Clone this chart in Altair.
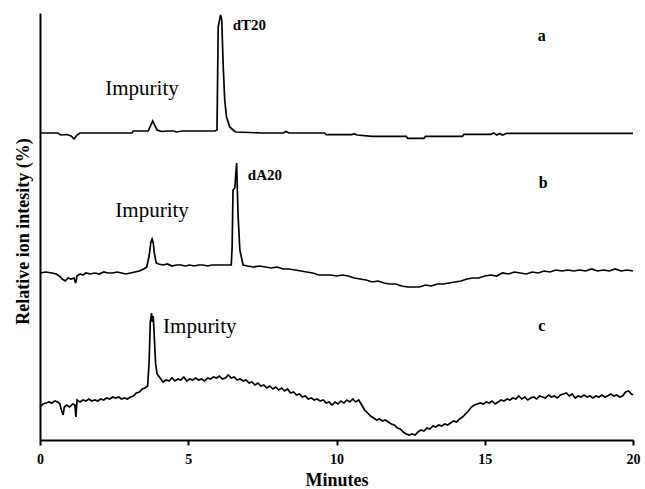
import altair as alt
import pandas as pd

# Chromatogram traces, stacked vertically (relative ion intensity, arbitrary units)
# a: dT20 sample
a_min = [0.0, 0.6, 0.7, 0.9, 1.05, 1.15, 1.25, 1.35, 3.1, 3.15, 3.65, 3.8, 3.95, 4.1,
         4.3, 4.5, 4.6, 4.8, 5.9, 5.97, 6.01, 6.09, 6.13, 6.18, 6.23, 6.29, 6.4, 6.51,
         6.6, 7.5, 8.2, 8.3, 8.4, 9.6, 9.65, 10.5, 10.6, 10.7, 11.2, 12.35, 12.4, 12.95,
         13.0, 14.25, 14.3, 15.2, 15.3, 15.4, 15.5, 15.6, 15.75, 20.0]
a_sig = [307, 307, 305, 305.5, 304, 301, 305, 307, 307, 309, 309, 319, 310, 308.5,
         309, 309, 308, 309, 309, 310, 413, 425, 420, 373, 340, 323, 313, 310,
         308, 307, 307, 308.5, 307, 307, 305.3, 305.3, 306, 305, 303.7, 303.7, 301.7, 301.7,
         303.7, 303.7, 305.7, 305.7, 307, 305, 306.5, 305, 306.7, 306.7]

# b: dA20 sample
b_min = [0.0, 0.2, 0.4, 0.55, 0.65, 0.75, 0.85, 0.95, 1.05, 1.15, 1.2, 1.25, 1.35, 1.45,
         1.55, 1.7, 1.85, 2.0, 2.15, 2.3, 2.45, 2.6, 2.75, 2.9, 3.05, 3.2, 3.35, 3.5,
         3.6, 3.68, 3.74, 3.78, 3.82, 3.86, 3.92, 4.0, 4.15, 4.3, 4.45, 4.6, 4.75, 4.9,
         5.05, 5.2, 5.35, 5.5, 5.65, 5.8, 5.95, 6.1, 6.25, 6.45, 6.48, 6.51, 6.57, 6.63,
         6.68, 6.74, 6.85, 7.0, 7.2, 7.4, 7.6, 7.8, 8.0, 8.2, 8.4, 8.6, 8.8, 9.0,
         9.2, 9.4, 9.6, 9.8, 10.0, 10.2, 10.4, 10.6, 10.8, 11.0, 11.2, 11.4, 11.6, 11.8,
         12.0, 12.2, 12.4, 12.6, 12.8, 13.0, 13.2, 13.4, 13.6, 13.8, 14.0, 14.2, 14.4, 14.6,
         14.8, 15.0, 15.2, 15.4, 15.6, 15.8, 16.0, 16.2, 16.4, 16.6, 16.8, 17.0, 17.2, 17.4,
         17.6, 17.8, 18.0, 18.2, 18.4, 18.6, 18.8, 19.0, 19.2, 19.4, 19.6, 19.8, 20.0]
b_sig = [167, 168, 167, 166, 164, 161, 159, 162, 161, 162, 157, 164, 166, 165,
         167, 166, 167, 166, 168, 167, 167, 168, 167, 166, 167, 168, 169, 171,
         173, 184, 198, 201, 197, 186, 177, 176, 175, 176, 174, 175, 175, 174,
         175, 174, 175, 175, 174, 175, 175, 175, 175, 175, 193, 250, 252, 277,
         225, 190, 175, 174, 173, 174, 173, 172, 173, 171, 171, 170, 169, 168,
         167, 165, 165, 165, 164, 165, 164, 162, 161, 160, 158, 159, 157, 156,
         156, 154, 153, 153, 153, 155, 154, 156, 156, 157, 158, 159, 161, 162,
         162, 164, 165, 164, 167, 166, 168, 167, 166, 168, 167, 169, 168, 170,
         169, 170, 169, 170, 169, 171, 169, 170, 169, 171, 169, 170, 169]

# c: blank / impurity only
c_min = [0.0, 0.1, 0.2, 0.3, 0.4, 0.5, 0.6, 0.67, 0.72, 0.78, 0.82, 0.9, 1.0, 1.1,
         1.18, 1.21, 1.25, 1.35, 1.45, 1.55, 1.65, 1.75, 1.85, 1.95, 2.05, 2.15, 2.25, 2.35,
         2.45, 2.55, 2.65, 2.75, 2.85, 2.95, 3.05, 3.15, 3.25, 3.35, 3.45, 3.55, 3.63, 3.68,
         3.72, 3.76, 3.79, 3.82, 3.86, 3.9, 3.95, 4.05, 4.15, 4.25, 4.35, 4.45, 4.55, 4.65,
         4.75, 4.85, 4.95, 5.05, 5.15, 5.25, 5.35, 5.45, 5.55, 5.65, 5.75, 5.85, 5.95, 6.05,
         6.15, 6.25, 6.35, 6.45, 6.55, 6.65, 6.75, 6.85, 6.95, 7.05, 7.15, 7.25, 7.35, 7.45,
         7.55, 7.65, 7.75, 7.85, 7.95, 8.05, 8.15, 8.25, 8.35, 8.45, 8.55, 8.65, 8.75, 8.85,
         8.95, 9.05, 9.15, 9.25, 9.35, 9.45, 9.55, 9.65, 9.75, 9.85, 9.95, 10.05, 10.15, 10.25,
         10.35, 10.45, 10.55, 10.65, 10.75, 10.85, 10.95, 11.05, 11.15, 11.25, 11.35, 11.45, 11.55, 11.65,
         11.75, 11.85, 11.95, 12.05, 12.15, 12.25, 12.35, 12.45, 12.55, 12.65, 12.75, 12.85, 12.95, 13.05,
         13.15, 13.25, 13.35, 13.45, 13.55, 13.65, 13.75, 13.85, 13.95, 14.05, 14.15, 14.25, 14.35, 14.45,
         14.55, 14.65, 14.75, 14.85, 14.95, 15.05, 15.15, 15.25, 15.35, 15.45, 15.55, 15.65, 15.75, 15.85,
         15.95, 16.05, 16.15, 16.25, 16.35, 16.45, 16.55, 16.65, 16.75, 16.85, 16.95, 17.05, 17.15, 17.25,
         17.35, 17.45, 17.55, 17.65, 17.75, 17.85, 17.95, 18.05, 18.15, 18.25, 18.35, 18.45, 18.55, 18.65,
         18.75, 18.85, 18.95, 19.05, 19.15, 19.25, 19.35, 19.45, 19.55, 19.65, 19.75, 19.85, 19.95, 20.0]
c_sig = [33, 36, 37, 38, 37, 39, 38, 36, 30, 25, 33, 35, 33, 36,
         35, 23, 40, 38, 40, 39, 41, 39, 40, 39, 41, 40, 42, 41,
         43, 42, 43, 41, 42, 41, 43, 44, 47, 48, 51, 52, 54, 78,
         118, 127, 118, 124, 100, 76, 66, 62, 58, 60, 59, 62, 59, 61,
         60, 63, 59, 61, 60, 62, 60, 61, 59, 62, 61, 63, 62, 64,
         61, 62, 65, 62, 63, 60, 61, 59, 60, 57, 58, 55, 57, 54,
         55, 52, 54, 51, 53, 50, 52, 49, 51, 47, 48, 45, 46, 43,
         44, 41, 42, 40, 41, 39, 40, 37, 38, 35, 38, 36, 39, 37,
         40, 38, 41, 38, 40, 35, 30, 27, 24, 22, 20, 21, 19, 20,
         18, 16, 15, 12, 11, 8, 6, 5, 6, 5, 8, 10, 9, 12,
         11, 14, 13, 15, 14, 16, 15, 17, 19, 18, 21, 23, 26, 29,
         33, 35, 36, 37, 36, 38, 37, 39, 36, 38, 40, 39, 41, 40,
         42, 41, 44, 41, 43, 40, 42, 43, 41, 44, 43, 42, 45, 43,
         44, 42, 45, 46, 47, 44, 46, 42, 44, 43, 45, 43, 44, 42,
         44, 43, 45, 43, 44, 46, 44, 45, 43, 44, 48, 49, 46, 45]

# Annotations: label text, retention time (min), signal level
note_text = ["dT20", "dA20", "a", "b", "c", "Impurity", "Impurity", "Impurity"]
note_min = [6.5, 7.01, 16.92, 16.97, 16.92, 3.44, 3.78, 4.15]
note_sig = [410, 260, 399, 252, 109, 345, 223, 107]

x_ticks = [0, 5, 10, 15, 20]

SERIF = "Liberation Serif"

traces = pd.concat([
    pd.DataFrame({"minutes": a_min, "signal": a_sig, "trace": "a"}),
    pd.DataFrame({"minutes": b_min, "signal": b_sig, "trace": "b"}),
    pd.DataFrame({"minutes": c_min, "signal": c_sig, "trace": "c"}),
])
notes = pd.DataFrame({"text": note_text, "minutes": note_min, "signal": note_sig})

x_enc = alt.X(
    "minutes:Q",
    title="Minutes",
    scale=alt.Scale(domain=[0, 20], nice=False, zero=False),
    axis=alt.Axis(
        values=x_ticks, format="d", grid=False,
        domainColor="black", domainWidth=2,
        tickColor="black", tickWidth=2, tickSize=5,
        labelFont=SERIF, labelFontSize=14, labelFontWeight="bold",
        labelColor="black", labelPadding=7, labelFlush=False,
        titleFont=SERIF, titleFontSize=18, titleFontWeight="bold",
        titleColor="black", titlePadding=5,
    ),
)
y_enc = alt.Y(
    "signal:Q",
    title="Relative ion intesity (%)",
    scale=alt.Scale(domain=[0, 427], nice=False, zero=False),
    axis=alt.Axis(
        labels=False, ticks=False, grid=False,
        domainColor="black", domainWidth=2,
        titleFont=SERIF, titleFontSize=18, titleFontWeight="bold",
        titleColor="black", titlePadding=8, titleY=218,
    ),
)

lines = alt.Chart(traces).mark_line(color="black", strokeWidth=1.7).encode(
    x=x_enc, y=y_enc, detail="trace:N", order="minutes:Q"
)

bold_notes = alt.Chart(notes[notes["text"].isin(["dT20", "dA20"])]).mark_text(
    font=SERIF, fontSize=15, fontWeight="bold", align="left",
    baseline="alphabetic", color="black",
).encode(x="minutes:Q", y="signal:Q", text="text:N")

panel_notes = alt.Chart(notes[notes["text"].isin(["a", "b", "c"])]).mark_text(
    font=SERIF, fontSize=16, fontWeight="bold", align="center",
    baseline="alphabetic", color="black",
).encode(x="minutes:Q", y="signal:Q", text="text:N")

imp = notes[notes["text"] == "Impurity"].reset_index(drop=True)
imp_centered = alt.Chart(imp.iloc[:2]).mark_text(
    font=SERIF, fontSize=21, align="center", baseline="alphabetic", color="black",
).encode(x="minutes:Q", y="signal:Q", text="text:N")
imp_left = alt.Chart(imp.iloc[2:]).mark_text(
    font=SERIF, fontSize=21, align="left", baseline="alphabetic", color="black",
).encode(x="minutes:Q", y="signal:Q", text="text:N")

chart = alt.layer(lines, bold_notes, panel_notes, imp_centered, imp_left).properties(
    width=593, height=427,
    padding={"left": 40, "top": 13, "right": 12, "bottom": 49},
    autosize=alt.AutoSizeParams(type="none"),
    background="white",
).configure_view(stroke=None)

chart.save("out.html", embed_options={"renderer": "svg", "actions": False})
